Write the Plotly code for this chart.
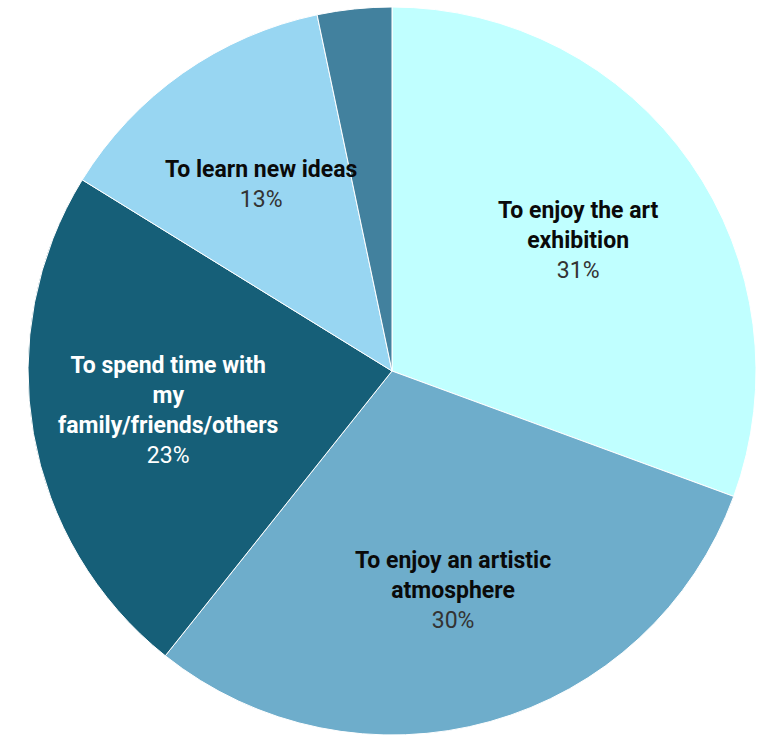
import math
import plotly.graph_objects as go

labels = ["To enjoy the art exhibition", "To enjoy an artistic atmosphere",
          "To spend time with my family/friends/others", "To learn new ideas", "Other"]
display_labels = ["To enjoy the art<br>exhibition", "To enjoy an artistic<br>atmosphere",
                  "To spend time with<br>my<br>family/friends/others", "To learn new ideas", ""]
values = [30.6, 30.1, 23.1, 12.9, 3.3]
colors = ["#C0FFFF", "#6EADCB", "#165F78", "#98D6F2", "#42819E"]
title_colors = ["#0A0A0A", "#0A0A0A", "#FFFFFF", "#0A0A0A", "#FFFFFF"]
pct_colors = ["#333333", "#333333", "#FFFFFF", "#333333", "#FFFFFF"]

W, H = 767, 735
ML, MR, MT, MB = 28, 11, 7, 0
PW, PH = W - ML - MR, H - MT - MB
LABEL_R = 0.625  # label distance as a fraction of the radius

fig = go.Figure(go.Pie(
    labels=labels,
    values=values,
    sort=False,
    direction="clockwise",
    rotation=0,
    marker=dict(colors=colors, line=dict(color="#FFFFFF", width=1)),
    textinfo="none",
    hoverinfo="label+percent",
    showlegend=False,
))

total = sum(values)
cum = 0.0
radius = min(PW, PH) / 2.0
annotations = []
for v, dl, tc, pc in zip(values, display_labels, title_colors, pct_colors):
    mid = (cum + v / 2.0) / total * 2 * math.pi
    cum += v
    if not dl:
        continue
    dx = math.sin(mid) * radius * LABEL_R
    dy = math.cos(mid) * radius * LABEL_R
    xp = 0.5 + dx / PW
    yp = 0.5 + dy / PH
    pct = round(v / total * 100)
    annotations.append(dict(
        x=xp, y=yp, xref="paper", yref="paper",
        xanchor="center", yanchor="middle", align="center",
        showarrow=False,
        text="<b>" + dl + "</b><br><span style='color:" + pc + "'>" + str(pct) + "%</span>",
        font=dict(family="Roboto", size=23, color=tc),
    ))

fig.update_layout(
    width=W, height=H,
    margin=dict(l=ML, r=MR, t=MT, b=MB),
    paper_bgcolor="white",
    plot_bgcolor="white",
    font=dict(family="Roboto"),
    annotations=annotations,
)

fig.write_html("out.html")
